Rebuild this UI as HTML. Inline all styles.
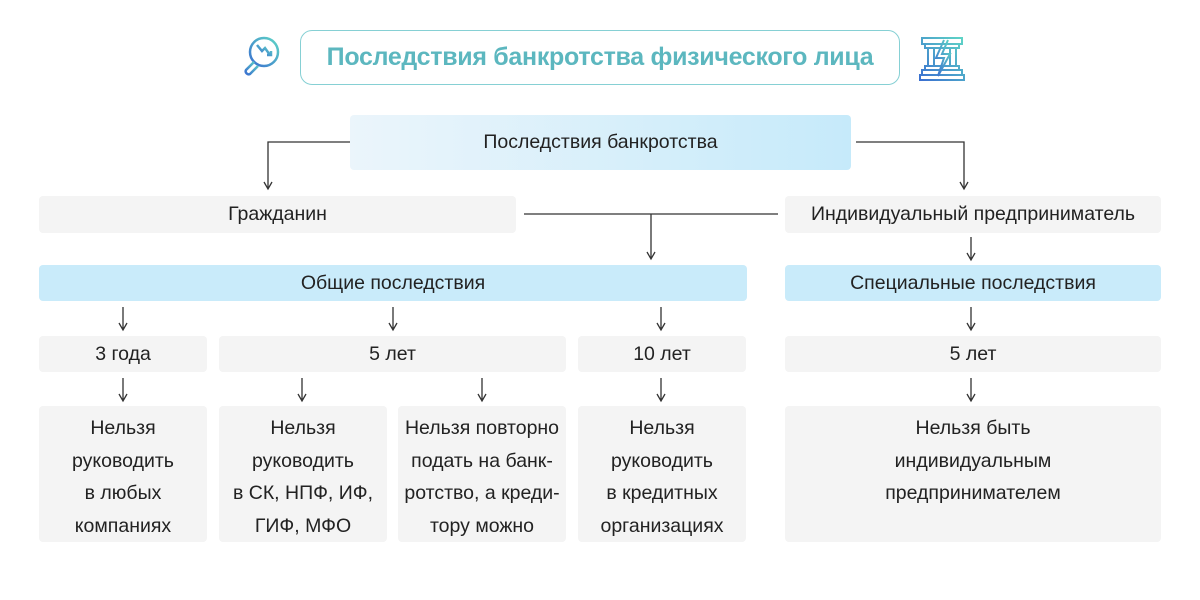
<!DOCTYPE html>
<html><head><meta charset="utf-8"><style>
body{margin:0;width:1200px;height:600px;background:#fff;position:relative;font-family:"Liberation Sans","DejaVu Sans",sans-serif;color:#222;overflow:hidden}
.b{position:absolute;display:flex;align-items:center;justify-content:center;text-align:center;font-size:19.5px;border-radius:4px;background:#f4f4f4;white-space:nowrap}
.c{background:#c9ebfa}
.t{line-height:32.5px;padding-top:6px;box-sizing:border-box}
svg{position:absolute;left:0;top:0}
</style></head><body>
<div style="position:absolute;left:300px;top:30px;width:598px;height:53px;border:1.5px solid #86d0d4;border-radius:12px;display:flex;align-items:center;justify-content:center;font-weight:bold;font-size:25px;color:#5cb7bf;letter-spacing:-0.3px">Последствия банкротства физического лица</div>
<div class="b" style="left:350px;top:115px;width:501px;height:55px;background:linear-gradient(90deg,#ebf5fb,#c6eafa)">Последствия банкротства</div>
<div class="b" style="left:39px;top:196px;width:477px;height:37px">Гражданин</div>
<div class="b" style="left:785px;top:196px;width:376px;height:37px">Индивидуальный предприниматель</div>
<div class="b c" style="left:39px;top:265px;width:708px;height:36px">Общие последствия</div>
<div class="b c" style="left:785px;top:265px;width:376px;height:36px">Специальные последствия</div>
<div class="b" style="left:39px;top:336px;width:168px;height:36px">3 года</div>
<div class="b" style="left:219px;top:336px;width:347px;height:36px">5 лет</div>
<div class="b" style="left:578px;top:336px;width:168px;height:36px">10 лет</div>
<div class="b" style="left:785px;top:336px;width:376px;height:36px">5 лет</div>
<div class="b t" style="left:39px;top:406px;width:168px;height:136px">Нельзя<br>руководить<br>в любых<br>компаниях</div>
<div class="b t" style="left:219px;top:406px;width:168px;height:136px">Нельзя<br>руководить<br>в СК, НПФ, ИФ,<br>ГИФ, МФО</div>
<div class="b t" style="left:398px;top:406px;width:168px;height:136px">Нельзя повторно<br>подать на банк-<br>ротство, а креди-<br>тору можно</div>
<div class="b t" style="left:578px;top:406px;width:168px;height:136px">Нельзя<br>руководить<br>в кредитных<br>организациях</div>
<div class="b t" style="left:785px;top:406px;width:376px;height:136px;align-items:flex-start;padding-top:6px">Нельзя быть<br>индивидуальным<br>предпринимателем</div>
<svg width="1200" height="600" fill="none" stroke="#333" stroke-width="1.3">
<defs><linearGradient id="g" x1="0" y1="1" x2="1" y2="0"><stop offset="0" stop-color="#3a6fd0"/><stop offset="1" stop-color="#5fd6c6"/></linearGradient>
<g id="a"><path d="M0 0V22M-4 16L0 23L4 16"/></g></defs>
<path d="M350 142H268V188M856 142H964V188M524 214H778M651 214V258"/>
<path d="M264 182L268 189L272 182M960 182L964 189L968 182M647 252L651 259L655 252"/>
<use href="#a" x="971" y="237"/>
<use href="#a" x="123" y="307"/><use href="#a" x="393" y="307"/><use href="#a" x="661" y="307"/><use href="#a" x="971" y="307"/>
<use href="#a" x="123" y="378"/><use href="#a" x="302" y="378"/><use href="#a" x="482" y="378"/><use href="#a" x="661" y="378"/><use href="#a" x="971" y="378"/>
<g stroke="url(#g)" stroke-width="2.5">
<circle cx="264" cy="52" r="14"/><path d="M254 62L246 70a3 3 0 0 0 4 4L258 66"/><path d="M257 45L262 51L265 48L270 55M267 55H271V51"/>
</g>
<g stroke="url(#g)" stroke-width="2">
<path d="M922 38H962V44H922ZM925 44V48H959V44M928 48V66M934 48V66M950 48V66M956 48V66M925 66H959V70H925ZM922 70H962V75H922ZM920 75H964V80H920Z"/>
<path d="M944 40L936 58H944L938 76L950 54H942L948 40"/>
</g>
</svg>
</body></html>
